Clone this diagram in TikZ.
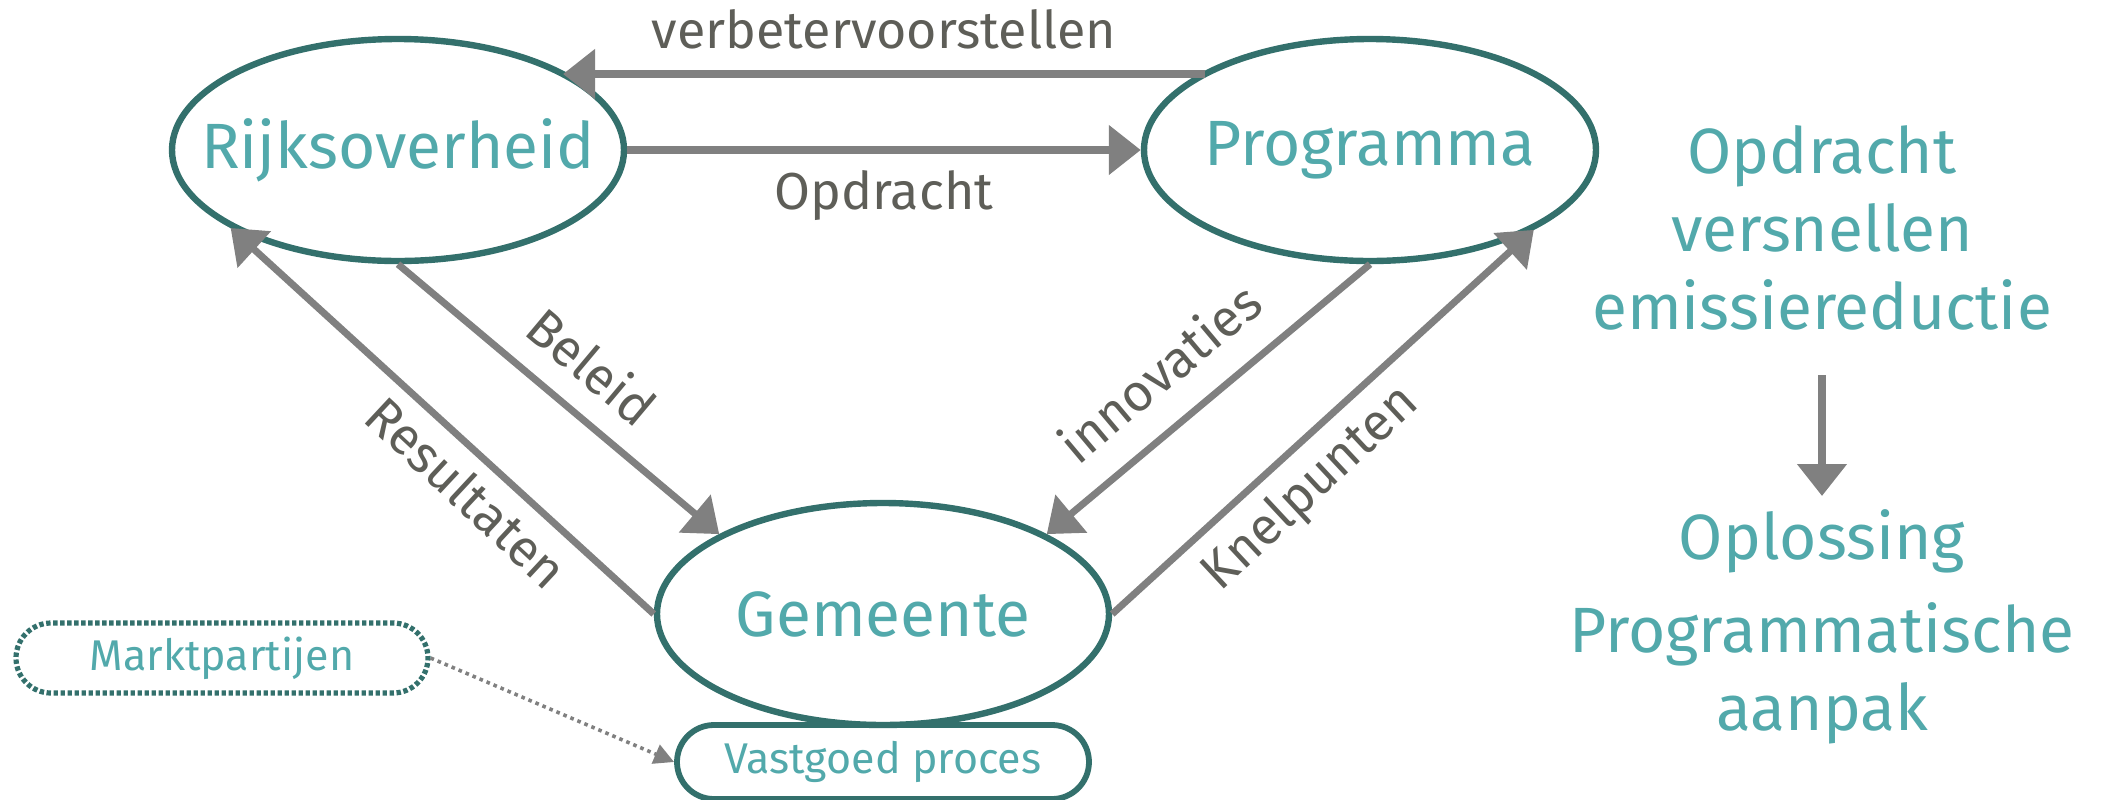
\documentclass[tikz,border=0pt]{standalone}
\usepackage{fontspec}
\setmainfont{Fira Sans}
\usetikzlibrary{arrows.meta,shapes.geometric,shapes.misc,calc}
\definecolor{edgecol}{HTML}{33706C}
\definecolor{tealtext}{HTML}{52A9AB}
\definecolor{arrcol}{HTML}{808080}
\definecolor{lblcol}{HTML}{5E5E58}
\begin{document}
\begin{tikzpicture}[x=0.5pt,y=-0.5pt,
  actor/.style={ellipse, draw=edgecol, line width=3.2pt, minimum width=226pt, minimum height=111pt, inner xsep=-30pt, inner ysep=0pt, text=tealtext, font=\fontsize{32}{38}\selectfont},
  flowh/.style={draw=arrcol, line width=4pt, -{Triangle[length=16pt,width=24pt]}},
  flowd/.style={draw=arrcol, line width=3.5pt, -{Triangle[length=16pt,width=24pt]}},
  lbl/.style={text=lblcol, font=\fontsize{26}{30}\selectfont, inner sep=0pt},
  side/.style={text=tealtext, font=\fontsize{32}{39}\selectfont, align=center, inner sep=0pt},
  pill/.style={rounded rectangle, draw=edgecol, line width=2.9pt, minimum width=206pt, minimum height=37pt, inner sep=0pt, text=tealtext, font=\fontsize{21.5}{25}\selectfont}
]
\path[use as bounding box] (0,0) rectangle (2101,799);

\node[actor] (rijks) at (398,150) {Rijksoverheid};
\node[actor] (prog) at (1370,150) {Programma};
\node[actor] (gem) at (883,614) {Gemeente};
\node[pill] (vast) at (883,762) {Vastgoed proces};
\node[pill, line width=2.6pt, dash pattern=on 2.2pt off 1.3pt, minimum height=35pt] (markt) at (222,658) {Marktpartijen};

\draw[flowh] ($(prog.center)+(-165,-76)$) -- ($(rijks.center)+(165,-76)$);
\draw[flowh] (rijks.east) -- (prog.west);
\draw[flowd] (rijks.south) -- (gem.154);
\draw[flowd] (gem.west) -- (rijks.205);
\draw[flowd] (prog.south) -- (gem.26);
\draw[flowd] (gem.east) -- (prog.334);
\draw[draw=arrcol, line width=1.8pt, dotted, -{Triangle[length=10pt,width=10pt]}] (markt.east) -- (vast.west);

\node[lbl] (l1) at (884,29) {verbetervoorstellen};
\node[lbl] (l2) at (884,196) {Opdracht};
\node[lbl, rotate=-40] (l3) at (592,366) {Beleid};
\node[lbl, rotate=-43] (l4) at (467,492) {Resultaten};
\node[lbl, rotate=40] (l5) at (1159,372) {innovaties};
\node[lbl, rotate=43] (l6) at (1311,489) {Knelpunten};

\node[side] (top) at (1822,228) {Opdracht\\versnellen\\emissiereductie};
\node[side] (opl) at (1822,541) {Oplossing};
\node[side] (aanpak) at (1822,673) {Programmatische\\aanpak};
\draw[flowh] (1822,375) coordinate (ds) -- (1822,496) coordinate (de);
\end{tikzpicture}
\end{document}
